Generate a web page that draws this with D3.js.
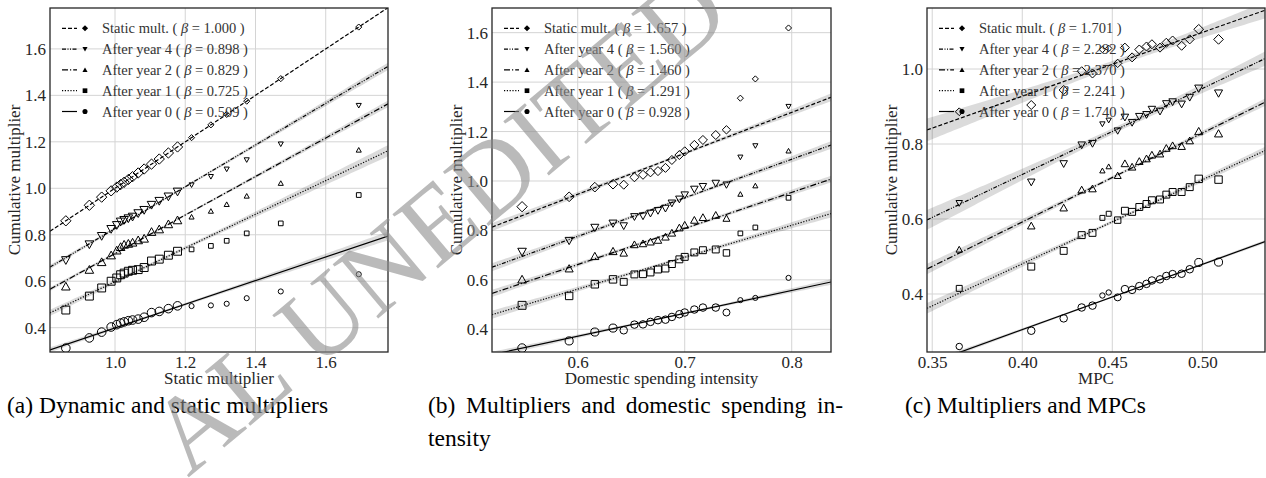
<!DOCTYPE html>
<html><head><meta charset="utf-8">
<script src="https://cdn.jsdelivr.net/npm/d3@7"></script>
<style>body{margin:0;background:#fff}svg{display:block}</style>
</head><body><svg id="chart" width="1266" height="478"></svg>
<script>
// ---------------- DATA ----------------
const seriesNames = ["Static mult.", "After year 4", "After year 2", "After year 1", "After year 0"];

// Panel (a): x = static multiplier
const aX      = [0.860,0.927,0.962,0.989,1.005,1.016,1.026,1.038,1.050,1.066,1.083,1.104,1.126,1.152,1.178,1.218,1.273,1.318,1.375,1.472,1.694];
const aStatic = [0.860,0.927,0.962,0.989,1.005,1.016,1.026,1.038,1.050,1.066,1.083,1.104,1.126,1.152,1.178,1.218,1.273,1.318,1.375,1.472,1.694];
const aY4     = [0.690,0.758,0.794,0.824,0.841,0.856,0.863,0.870,0.877,0.892,0.906,0.928,0.945,0.964,0.985,1.014,1.050,1.082,1.122,1.190,1.356];
const aY2     = [0.578,0.650,0.683,0.712,0.733,0.748,0.758,0.762,0.767,0.777,0.784,0.813,0.824,0.846,0.863,0.877,0.902,0.931,0.967,1.022,1.165];
const aY1     = [0.476,0.536,0.571,0.600,0.614,0.628,0.635,0.643,0.647,0.650,0.659,0.687,0.695,0.712,0.729,0.737,0.752,0.774,0.806,0.849,0.971];
const aY0     = [0.312,0.356,0.381,0.403,0.413,0.420,0.425,0.430,0.433,0.437,0.445,0.465,0.470,0.482,0.494,0.493,0.496,0.503,0.527,0.556,0.630];
const aSize   = [1,1,1,1,1,1,1,1,1,1,1,1,1,1,1,0.35,0.35,0.35,0.35,0.35,0.35];
const aBeta   = [1.000,0.898,0.829,0.725,0.509];
const aAlpha  = [0.000,-0.071,-0.110,-0.127,-0.110];
const aBand   = [0.002,0.021,0.019,0.032,0.025];
const aXTicks = [1.0,1.2,1.4,1.6];
const aYTicks = [0.4,0.6,0.8,1.0,1.2,1.4,1.6];

// Panel (b): x = domestic spending intensity
const bX      = [0.548,0.592,0.616,0.633,0.643,0.653,0.661,0.668,0.675,0.682,0.688,0.695,0.700,0.709,0.717,0.729,0.739,0.752,0.766,0.797];
const bStatic = [0.896,0.936,0.975,0.987,0.985,1.015,1.025,1.035,1.040,1.053,1.085,1.105,1.120,1.146,1.166,1.186,1.207,1.335,1.413,1.619];
const bY4     = [0.713,0.758,0.811,0.828,0.818,0.855,0.858,0.869,0.880,0.889,0.910,0.926,0.943,0.966,0.977,0.990,0.984,1.096,1.142,1.301];
const bY2     = [0.602,0.646,0.696,0.716,0.709,0.743,0.747,0.754,0.761,0.774,0.790,0.811,0.822,0.842,0.853,0.862,0.849,0.947,0.981,1.122];
const bY1     = [0.497,0.535,0.582,0.602,0.592,0.622,0.623,0.630,0.642,0.646,0.664,0.683,0.693,0.711,0.720,0.723,0.709,0.788,0.812,0.932];
const bY0     = [0.324,0.353,0.389,0.405,0.396,0.419,0.420,0.430,0.437,0.439,0.450,0.461,0.468,0.480,0.488,0.488,0.468,0.518,0.527,0.608];
const bSize   = [1,0.9,0.9,0.9,0.8,0.8,0.8,0.8,0.8,0.8,0.8,0.8,0.8,0.8,0.8,0.8,0.7,0.35,0.35,0.35];
const bBeta   = [1.657,1.560,1.460,1.291,0.928];
const bAlpha  = [-0.048,-0.160,-0.214,-0.212,-0.185];
const bBand   = [0.025,0.025,0.022,0.025,0.018];
const bXTicks = [0.6,0.7,0.8];
const bYTicks = [0.4,0.6,0.8,1.0,1.2,1.4,1.6];

// Panel (c): x = MPC
const cX      = [0.365,0.405,0.423,0.433,0.439,0.4445,0.448,0.453,0.457,0.461,0.465,0.469,0.472,0.4765,0.480,0.4835,0.4885,0.493,0.498,0.509];
const cStatic = [0.886,0.904,0.944,0.994,0.988,1.052,1.055,1.015,1.057,1.031,1.052,1.060,1.066,1.057,1.070,1.076,1.062,1.079,1.106,1.079];
const cY4     = [0.642,0.698,0.747,0.797,0.801,0.853,0.863,0.835,0.871,0.857,0.873,0.878,0.892,0.887,0.907,0.912,0.906,0.924,0.948,0.935];
const cY2     = [0.519,0.582,0.630,0.678,0.681,0.729,0.740,0.716,0.748,0.739,0.754,0.761,0.771,0.774,0.789,0.796,0.794,0.809,0.834,0.828];
const cY1     = [0.415,0.473,0.515,0.557,0.563,0.603,0.614,0.597,0.622,0.619,0.632,0.640,0.650,0.652,0.665,0.672,0.672,0.685,0.707,0.705];
const cY0     = [0.260,0.302,0.335,0.364,0.369,0.396,0.404,0.391,0.413,0.411,0.421,0.427,0.436,0.439,0.448,0.453,0.454,0.466,0.484,0.485];
const cSize   = [0.6,0.8,0.8,0.8,0.8,0.4,0.4,0.7,0.8,0.8,0.8,0.8,0.8,0.8,0.8,0.8,0.8,0.8,0.9,0.9];
const cBeta   = [1.701,2.292,2.370,2.241,1.740];
const cAlpha  = [0.247,-0.198,-0.356,-0.416,-0.391];
const cBand   = [0.039,0.034,0.018,0.018,0.008];
const cXTicks = [0.35,0.40,0.45,0.50];
const cYTicks = [0.4,0.6,0.8,1.0];

const captions = [["(a) Dynamic and static multipliers"],
                  ["(b) Multipliers and domestic spending in-","tensity"],
                  ["(c) Multipliers and MPCs"]];
const watermark = "AL UNEDITED";

// ---------------- LAYOUT / STYLE ----------------
const W = 1266, H = 478, yTop = 8, yBot = 352;
const SERIF = "'Liberation Serif','Times New Roman',serif";
const dashes = ["4,2", "4,1.5,1,1.5,1,1.5", "6,2,1.2,2", "1.2,1.6", null];

const svg = d3.select("#chart");
svg.append("rect").attr("width", W).attr("height", H).attr("fill", "#fff");

// custom marker types (matplotlib-like)
const symDiamond = {draw(c, s){const r = Math.sqrt(s)/2*1.2; c.moveTo(0,-r); c.lineTo(r,0); c.lineTo(0,r); c.lineTo(-r,0); c.closePath();}};
const symTriDown = {draw(c, s){const r = Math.sqrt(s)/2; c.moveTo(-r,-r*0.85); c.lineTo(r,-r*0.85); c.lineTo(0,r*0.95); c.closePath();}};
const symTriUp   = {draw(c, s){const r = Math.sqrt(s)/2; c.moveTo(-r,r*0.85); c.lineTo(r,r*0.85); c.lineTo(0,-r*0.95); c.closePath();}};
const symSquare  = {draw(c, s){const r = Math.sqrt(s)/2*0.92; c.rect(-r,-r,2*r,2*r);}};
const symCircle  = {draw(c, s){const r = Math.sqrt(s)/2; c.moveTo(r,0); c.arc(0,0,r,0,2*Math.PI);}};
const shapes = [symDiamond, symTriDown, symTriUp, symSquare, symCircle];
const rScale = d3.scaleLinear().domain([0.35, 1]).range([2.55, 4.3]);

const panels = [
  {x0:50,  x1:388,  xDom:[0.8149,1.7773], yDom:[0.2954,1.776], X:aX, Ys:[aStatic,aY4,aY2,aY1,aY0], S:aSize,
   beta:aBeta, alpha:aAlpha, band:aBand, xt:aXTicks, yt:aYTicks, xf:".1f", xlab:"Static multiplier",
   cap:captions[0], capX:7, capW:[null]},
  {x0:492, x1:831,  xDom:[0.5199,0.8367], yDom:[0.3082,1.6998], X:bX, Ys:[bStatic,bY4,bY2,bY1,bY0], S:bSize,
   beta:bBeta, alpha:bAlpha, band:bBand, xt:bXTicks, yt:bYTicks, xf:".1f", xlab:"Domestic spending intensity",
   cap:captions[1], capX:428, capW:[415,null]},
  {x0:927, x1:1265, xDom:[0.3471,0.5348], yDom:[0.2453,1.1627], X:cX, Ys:[cStatic,cY4,cY2,cY1,cY0], S:cSize,
   beta:cBeta, alpha:cAlpha, band:cBand, xt:cXTicks, yt:cYTicks, xf:".2f", xlab:"MPC",
   cap:captions[2], capX:905, capW:[null]}
];

panels.forEach((p, pi) => {
  const x = d3.scaleLinear().domain(p.xDom).range([p.x0, p.x1]);
  const y = d3.scaleLinear().domain(p.yDom).range([yBot, yTop]);
  const g = svg.append("g");
  const clipId = "clip" + pi;
  svg.append("clipPath").attr("id", clipId).append("rect")
    .attr("x", p.x0).attr("y", yTop).attr("width", p.x1 - p.x0).attr("height", yBot - yTop);

  // grid
  g.append("g").selectAll("line").data(p.xt).join("line")
    .attr("x1", d => x(d)).attr("x2", d => x(d)).attr("y1", yTop).attr("y2", yBot)
    .attr("stroke", "#d4d4d4").attr("stroke-width", 1);
  g.append("g").selectAll("line").data(p.yt).join("line")
    .attr("y1", d => y(d)).attr("y2", d => y(d)).attr("x1", p.x0).attr("x2", p.x1)
    .attr("stroke", "#d4d4d4").attr("stroke-width", 1);

  const plot = g.append("g").attr("clip-path", `url(#${clipId})`);
  const n = p.X.length, xm = d3.mean(p.X), sxx = d3.sum(p.X, v => (v - xm) ** 2);
  const xs = d3.range(0, 101).map(i => p.xDom[0] + (p.xDom[1] - p.xDom[0]) * i / 100);

  // confidence bands
  p.beta.forEach((b, si) => {
    const a = p.alpha[si], k = p.band[si];
    const hw = v => k * Math.sqrt(1 / n + (v - xm) ** 2 / sxx);
    plot.append("path").datum(xs)
      .attr("d", d3.area().x(v => x(v)).y0(v => y(a + b * v - hw(v))).y1(v => y(a + b * v + hw(v))))
      .attr("fill", "#000").attr("fill-opacity", 0.14);
  });
  // fit lines
  p.beta.forEach((b, si) => {
    const a = p.alpha[si];
    plot.append("path").datum(p.xDom)
      .attr("d", d3.line().x(v => x(v)).y(v => y(a + b * v)))
      .attr("fill", "none").attr("stroke", "#000").attr("stroke-width", 1.2)
      .attr("stroke-dasharray", dashes[si]);
  });
  // markers
  p.Ys.forEach((ys, si) => {
    plot.append("g").selectAll("path").data(ys).join("path")
      .attr("transform", (d, i) => `translate(${x(p.X[i])},${y(d)})`)
      .attr("d", (d, i) => d3.symbol().type(shapes[si]).size((2 * rScale(p.S[i])) ** 2)())
      .attr("fill", "none").attr("stroke", "#000").attr("stroke-width", 1);
  });

  // axes
  const xa = g.append("g").attr("transform", `translate(0,${yBot})`)
    .call(d3.axisBottom(x).tickValues(p.xt).tickFormat(d3.format(p.xf)).tickSize(0).tickPadding(4));
  const ya = g.append("g").attr("transform", `translate(${p.x0},0)`)
    .call(d3.axisLeft(y).tickValues(p.yt).tickFormat(d3.format(".1f")).tickSize(0).tickPadding(4));
  [xa, ya].forEach(ax => {
    ax.select(".domain").remove();
    ax.selectAll("text").attr("font-family", SERIF).attr("font-size", 17).attr("fill", "#262626");
  });

  // frame
  g.append("rect").attr("x", p.x0).attr("y", yTop).attr("width", p.x1 - p.x0).attr("height", yBot - yTop)
    .attr("fill", "none").attr("stroke", "#262626").attr("stroke-width", 1.3);

  // axis labels
  g.append("text").attr("x", (p.x0 + p.x1) / 2).attr("y", 384).attr("text-anchor", "middle")
    .attr("font-family", SERIF).attr("font-size", 17).attr("fill", "#262626").text(p.xlab);
  g.append("text").attr("transform", `translate(${p.x0 - 36},${(yTop + yBot) / 2}) rotate(-90)`)
    .attr("dy", "0.35em").attr("text-anchor", "middle")
    .attr("font-family", SERIF).attr("font-size", 17).attr("fill", "#262626").text("Cumulative multiplier");

  // legend
  const lg = g.append("g");
  seriesNames.forEach((name, si) => {
    const ly = 28.3 + si * 20.8;
    lg.append("line").attr("x1", p.x0 + 12).attr("x2", p.x0 + 27).attr("y1", ly).attr("y2", ly)
      .attr("stroke", "#000").attr("stroke-width", 1.2).attr("stroke-dasharray", dashes[si]);
    lg.append("path").attr("transform", `translate(${p.x0 + 35},${ly})`)
      .attr("d", d3.symbol().type(shapes[si]).size(26)()).attr("fill", "#000");
    const t = lg.append("text").attr("x", p.x0 + 52).attr("y", ly).attr("dy", "0.35em")
      .attr("font-family", SERIF).attr("font-size", 14.5).attr("fill", "#333");
    t.append("tspan").text(`${name} ( `);
    t.append("tspan").attr("font-style", "italic").text("β");
    t.append("tspan").text(` = ${p.beta[si].toFixed(3)} )`);
  });

  // caption (first line of a wrapped caption is justified to the subfigure width)
  p.cap.forEach((line, li) => {
    const t = svg.append("text").attr("x", p.capX).attr("y", 413 + li * 33)
      .attr("font-family", SERIF).attr("font-size", 23.5).attr("fill", "#000").text(line);
    if (p.capW[li]) {
      const w = t.node().getComputedTextLength();
      const spaces = (line.match(/ /g) || []).length;
      t.attr("word-spacing", Math.max(0, (p.capW[li] - w) / spaces));
    }
  });
});

// watermark
svg.append("text").attr("transform", "translate(188,478) rotate(-40)")
  .attr("font-family", SERIF).attr("font-size", 108).attr("fill", "#8c8c8c").attr("fill-opacity", 0.6)
  .text(watermark);
</script></body></html>
